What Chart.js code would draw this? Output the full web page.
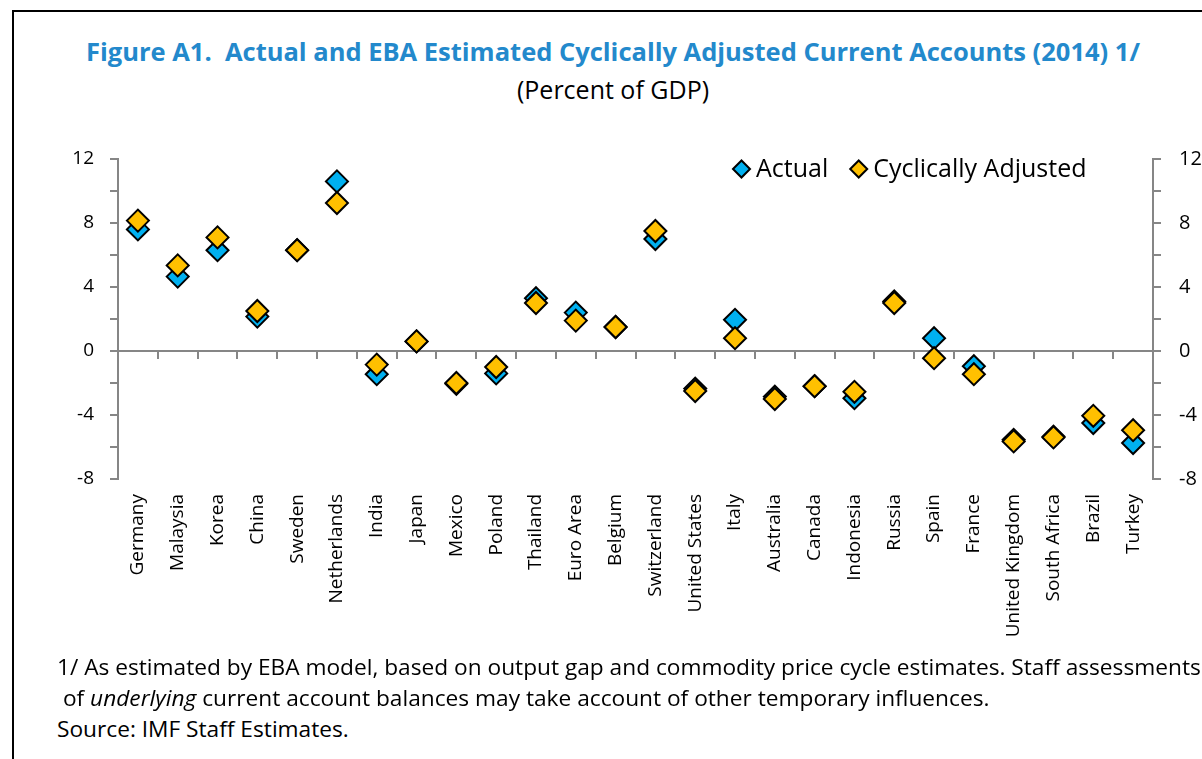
<!DOCTYPE html>
<html>
<head>
<meta charset="utf-8">
<script src="https://cdn.jsdelivr.net/npm/chart.js@4.4.1/dist/chart.umd.min.js"></script>
<style>
  html, body { margin:0; padding:0; width:1202px; height:759px; overflow:hidden; background:#fff; font-family:"Open Sans", sans-serif; }
  #frame { position:absolute; left:12px; top:10px; width:1300px; height:900px; border-left:2px solid #000; border-top:2px solid #000; }
  #title { position:absolute; left:0; top:33px; width:1226px; text-align:center; color:#2389cc; font-weight:bold; font-size:25.5px; line-height:36px; white-space:nowrap; }
  #sub { position:absolute; left:0; top:72px; width:1226px; text-align:center; color:#000; font-size:25px; line-height:34px; white-space:nowrap; }
  #chart { position:absolute; left:0; top:0; }
  .note { position:absolute; left:57px; font-size:22.7px; line-height:31px; color:#000; white-space:nowrap; }
</style>
</head>
<body>
<div id="frame"></div>
<div id="title">Figure A1.&nbsp; Actual and EBA Estimated Cyclically Adjusted Current Accounts (2014) 1/</div>
<div id="sub">(Percent of GDP)</div>
<canvas id="chart" width="1213" height="660"></canvas>
<div class="note" style="top:651px">1/ As estimated by EBA model, based on output gap and commodity price cycle estimates. Staff assessments</div>
<div class="note" style="top:682px">&nbsp;of <i>underlying</i> current account balances may take account of other temporary influences.</div>
<div class="note" style="top:713px">Source: IMF Staff Estimates.</div>
<script>
const countries = ['Germany','Malaysia','Korea','China','Sweden','Netherlands','India','Japan','Mexico','Poland',
  'Thailand','Euro Area','Belgium','Switzerland','United States','Italy','Australia','Canada','Indonesia','Russia',
  'Spain','France','United Kingdom','South Africa','Brazil','Turkey'];
const actual = [7.6, 4.65, 6.3, 2.15, 6.3, 10.6, -1.45, 0.6, -2.05, -1.4,
  3.3, 2.4, 1.5, 7.0, -2.35, 1.95, -2.85, -2.2, -2.95, 3.1,
  0.8, -0.95, -5.55, -5.35, -4.5, -5.75];
const adjusted = [8.15, 5.35, 7.1, 2.5, 6.3, 9.25, -0.85, 0.6, -2.0, -1.0,
  3.0, 1.9, 1.5, 7.5, -2.5, 0.8, -3.0, -2.2, -2.55, 3.0,
  -0.45, -1.45, -5.65, -5.4, -4.05, -4.95];
const yMin = -8, yMax = 12, yStep = 2, yLabelEvery = 4;

const axisGrey = '#868686';
const tickFont = { family:'Open Sans', size:19 };

// legend drawn inside the plot, top right
const legendPlugin = {
  id:'innerLegend',
  afterDraw(chart){
    const ctx = chart.ctx;
    let x = 733, y = 169;
    ctx.save();
    ctx.font = '25px "Open Sans"';
    ctx.textBaseline = 'middle';
    chart.data.datasets.forEach(ds => {
      const r = 8.5;
      ctx.beginPath();
      ctx.moveTo(x, y); ctx.lineTo(x + r, y - r); ctx.lineTo(x + 2*r, y); ctx.lineTo(x + r, y + r); ctx.closePath();
      ctx.fillStyle = ds.backgroundColor; ctx.fill();
      ctx.lineWidth = 2; ctx.strokeStyle = '#000'; ctx.stroke();
      ctx.fillStyle = '#000';
      ctx.fillText(ds.label, x + 2*r + 6, y + 1);
      x += 2*r + 6 + ctx.measureText(ds.label).width + 22;
    });
    ctx.restore();
  }
};

const pointStyle = { pointStyle:'rectRot', pointRadius:11, pointHoverRadius:11, borderColor:'#000', borderWidth:2, pointBorderWidth:2, pointHoverBorderWidth:2, showLine:false };

new Chart(document.getElementById('chart'), {
  type:'line',
  data:{
    labels:countries,
    datasets:[
      Object.assign({ label:'Actual', data:actual, backgroundColor:'#00b0f0', pointBackgroundColor:'#00b0f0', order:1 }, pointStyle),
      Object.assign({ label:'Cyclically Adjusted', data:adjusted, backgroundColor:'#ffc000', pointBackgroundColor:'#ffc000', order:0 }, pointStyle)
    ]
  },
  options:{
    responsive:false,
    animation:false,
    layout:{ padding:{ top:159, left:0, right:0, bottom:0 } },
    plugins:{ legend:{ display:false }, tooltip:{ enabled:false } },
    scales:{
      x:{
        position:'bottom', offset:true,
        grid:{ display:false, drawTicks:false }, border:{ display:false },
        ticks:{ color:'#000', font:{ family:'Open Sans', size:19 }, minRotation:90, maxRotation:90, autoSkip:false, padding:15 },
        afterFit(s){ s.height = 181; }
      },
      x0:{
        type:'category', labels:countries, position:{ y:0 }, offset:true,
        grid:{ offset:true, drawOnChartArea:false, tickLength:7, color:axisGrey, lineWidth:2 },
        border:{ color:axisGrey, width:2 },
        ticks:{ display:false }
      },
      y:{
        position:'left', min:yMin, max:yMax,
        grid:{ drawOnChartArea:false, tickLength:8, color:axisGrey, lineWidth:2 },
        border:{ color:axisGrey, width:2 },
        ticks:{ stepSize:yStep, color:'#000', font:tickFont, padding:16, callback:v => v % yLabelEvery === 0 ? v : '' },
        afterFit(s){ s.width = 118; }
      },
      y2:{
        position:'right', min:yMin, max:yMax,
        grid:{ drawOnChartArea:false, tickLength:8, color:axisGrey, lineWidth:2 },
        border:{ color:axisGrey, width:2 },
        ticks:{ stepSize:yStep, color:'#000', font:{ family:'Open Sans', size:20 }, padding:18, callback:v => v % yLabelEvery === 0 ? v : '' },
        afterFit(s){ s.width = 60; }
      }
    }
  },
  plugins:[legendPlugin]
});
</script>
</body>
</html>
